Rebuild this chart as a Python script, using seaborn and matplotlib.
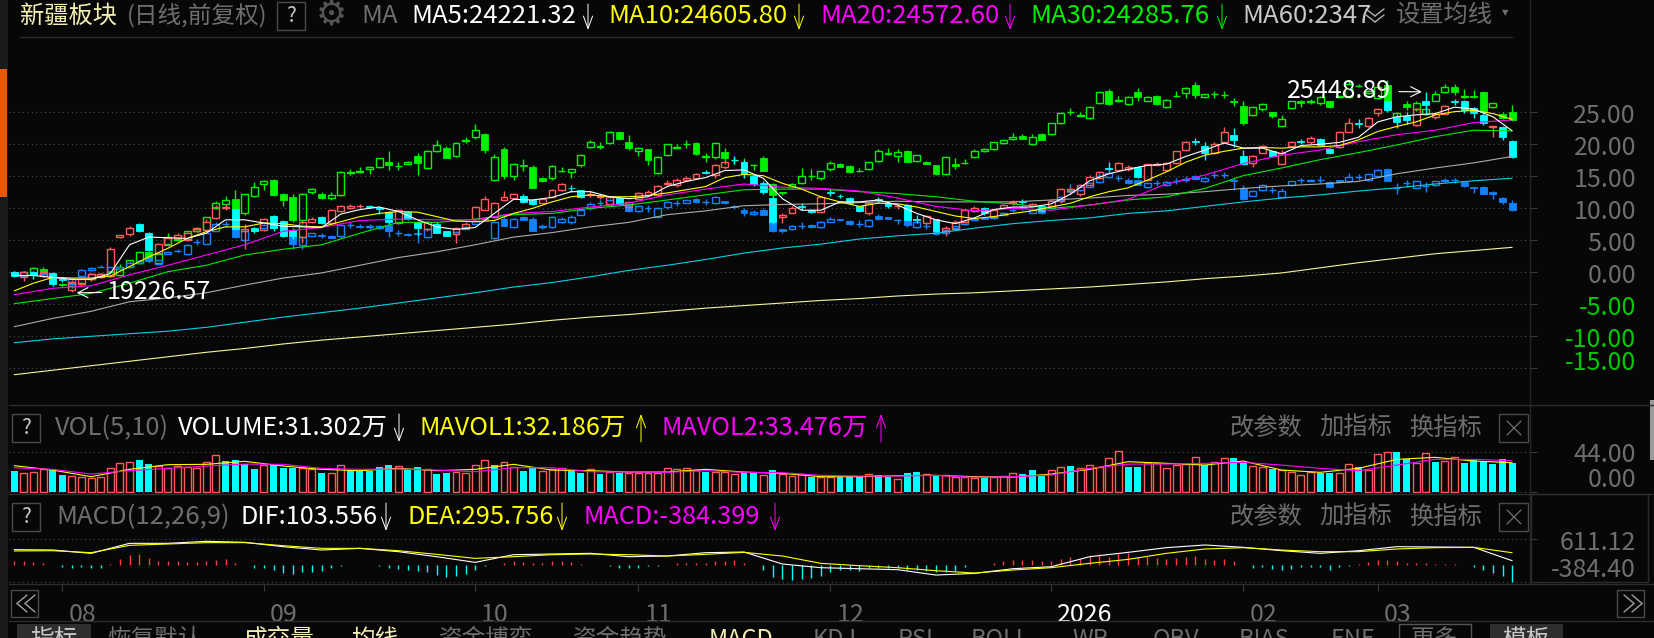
import numpy as np
import pandas as pd
import matplotlib
matplotlib.use("Agg")
import matplotlib.pyplot as plt
import seaborn as sns
from matplotlib.lines import Line2D
from matplotlib.patches import Rectangle
from matplotlib.transforms import ScaledTranslation

# -----------------------------
# DATA (percent scale of the main panel)
# -----------------------------
main_open = [0.1,-0.8,0.1,-0.6,-0.1,-1.1,-2.7,-1.9,-1.1,-0.7,
 -0.6,5.5,6.0,7.6,6.1,3.0,4.3,5.4,5.1,6.4,
 6.6,8.5,10.1,9.9,6.5,6.9,6.6,8.8,8.0,6.6,
 5.5,7.8,8.6,7.7,9.6,10.1,10.3,10.4,10.0,9.5,
 7.7,9.5,7.8,6.7,7.6,6.4,6.0,6.9,8.3,9.8,
 8.7,11.3,11.6,12.0,11.3,10.9,11.8,12.8,13.2,12.8,
 12.1,11.7,10.7,11.6,10.2,11.4,12.1,12.1,13.8,13.6,
 14.4,14.8,15.6,15.2,16.4,17.6,17.3,15.1,14.0,11.6,
 8.7,9.3,10.3,9.8,9.4,12.5,12.0,11.6,10.3,9.3,
 11.4,10.9,10.3,10.5,8.4,7.7,8.3,6.4,6.7,7.9,
 9.6,10.1,8.7,10.0,10.8,11.1,10.4,10.3,10.4,11.1,
 12.7,12.2,13.6,14.7,16.3,16.0,16.1,16.4,14.4,16.8,
 16.0,17.1,19.1,20.5,19.8,18.6,20.4,21.4,18.1,17.1,
 18.7,18.9,17.0,19.7,20.5,20.4,20.9,19.2,19.6,22.0,
 23.4,22.8,24.9,26.7,24.1,24.4,23.0,26.8,24.2,24.8,
 26.7,26.7,25.6,24.6,22.7,22.7,20.5]
main_close = [-0.6,0.1,-0.4,0.1,-1.8,-1.2,-1.5,-1.1,-0.3,-0.3,
 3.6,5.8,7.0,6.5,3.5,4.5,5.3,5.9,6.1,6.9,
 7.9,10.2,10.2,6.8,6.7,6.5,8.3,7.0,5.7,5.6,
 7.8,8.4,7.7,9.8,10.4,10.3,10.4,10.2,9.9,7.9,
 9.7,8.4,7.0,7.8,6.2,5.7,6.9,7.6,10.2,11.4,
 10.8,11.8,12.2,11.0,10.6,11.5,12.9,13.8,13.1,11.7,
 12.3,11.9,11.8,10.7,11.0,12.4,12.6,13.5,14.0,14.4,
 14.8,15.3,15.5,16.7,17.2,17.5,15.4,13.8,12.6,7.9,
 9.0,10.0,10.2,9.4,11.8,12.4,11.9,10.8,9.6,10.9,
 11.3,10.3,10.4,8.2,8.2,8.8,6.4,7.0,7.9,9.8,
 10.1,9.2,9.8,10.5,11.0,11.0,10.6,9.6,11.1,13.0,
 13.0,13.6,14.9,15.7,16.2,17.1,16.5,14.9,16.9,17.0,
 17.1,18.9,20.4,20.4,18.7,20.1,22.0,20.6,16.9,18.2,
 19.7,18.2,18.6,20.3,20.4,21.0,19.9,18.6,22.0,23.3,
 23.2,24.1,25.5,25.3,23.5,23.8,25.5,26.1,24.8,26.0,
 26.6,25.4,24.9,23.3,22.8,21.2,18.0]
main_up = [.1,.1,.1,.3,.2,.3,.3,.1,.2,.2, .3,.1,.2,.1,.2,.1,.2,.3,.2,.2,
 .4,.3,.5,.1,.8,.2,.2,.2,.1,.3, .1,.2,.2,.1,.1,.3,.2,.1,.3,.1,
 .2,.1,.2,.2,.2,.1,.2,.2,.1,.6, .2,.9,.2,.2,.1,.1,.1,.2,.4,.1,
 .4,.3,.1,.1,.1,.1,.2,.2,.4,.4, .2,.2,.4,.2,.2,.5,.2,.1,.3,.2,
 .2,.3,.5,.1,.1,.5,.3,.1,.1,.1, .4,.2,.3,.1,.6,.2,.1,.3,.3,.1,
 .2,.1,.1,.2,.3,.4,.3,.2,.3,.1, .3,.2,.3,.2,1.0,.1,.2,.2,.1,.2,
 .2,.1,.1,.5,.5,.3,.7,1.1,1.0,.2, .2,.1,.5,.2,.4,.3,.1,.2,.1,.8,
 .6,.1,.2,.2,.7,.7,.2,1.3,.2,.2, .4,.3,.2,.3,.1,.1,.1]
main_dn = [.1,.5,.6,.1,.3,.3,.4,.1,.2,.2, .1,.1,.3,.2,.2,.1,.2,.1,.2,.1,
 .1,.1,.4,.2,2.9,.4,.2,.5,.2,.4, .9,.1,.2,.1,.1,.2,.2,.1,.8,.3,
 .1,.2,1.4,.2,.1,.1,1.4,.1,.3,.1, .2,.2,.2,.2,.1,.1,.1,.1,.5,.1,
 .4,.3,.1,.1,.1,.1,.1,.1,.2,.2, .1,.1,.2,.5,.2,.5,.7,.3,.3,.3,
 1.0,.1,.5,.1,.1,.5,.3,.1,.1,.4, .5,.2,.4,.1,.5,.1,.1,.8,.1,.1,
 .1,.2,.1,.1,.3,.4,.1,.2,.1,.2, .3,.2,.1,.1,.4,.1,.2,.2,.2,.1,
 .1,.1,.1,.5,1.2,.1,.2,1.0,.2,.6, .1,.1,.1,.1,.4,.3,.1,.1,.1,.1,
 .6,.1,.5,.3,.9,.7,.2,1.5,.2,.1, .4,.5,.8,.3,1.5,.5,.1]

green_open = [0.1,-0.6,-0.2,0.5,-0.2,-1.9,-2.2,-1.9,-1.1,-0.6,
 -0.5,-0.4,0.9,1.4,3.1,1.4,4.4,5.0,5.2,6.4,
 6.6,10.0,10.6,11.4,9.2,12.0,13.8,14.4,12.3,11.7,
 8.2,12.6,12.3,11.6,12.1,15.5,15.6,16.1,16.5,17.3,
 16.6,17.0,18.2,16.3,18.9,19.4,18.1,20.5,21.2,21.6,
 14.5,19.2,15.1,16.7,16.4,14.8,14.8,15.8,15.7,16.7,
 19.6,19.6,20.2,21.9,20.4,19.0,19.2,15.5,18.3,19.5,
 20.0,20.2,18.0,18.0,18.8,17.5,17.2,16.8,17.8,13.8,
 12.5,13.3,13.9,15.0,14.8,16.1,17.0,16.6,15.8,16.1,
 17.4,18.5,18.1,19.0,17.4,17.3,16.7,15.3,16.9,17.1,
 18.0,18.9,19.2,20.2,20.8,21.3,20.0,21.6,21.6,23.3,
 25.1,24.5,24.1,26.4,28.3,26.7,26.3,28.1,26.8,27.6,
 25.8,27.5,28.0,29.3,27.4,27.8,27.7,26.7,26.0,24.6,
 25.5,25.0,22.9,25.6,26.8,26.6,26.4,26.7,27.4,27.4,
 29.1,28.0,27.2,29.3,24.2,26.3,25.5,24.8,26.8,28.1,
 28.9,27.4,27.5,28.2,25.8,24.8,25.0]
green_close = [-0.2,0.1,0.7,-0.1,-0.7,-2.0,-1.7,-1.6,-0.3,-0.2,
 0.1,0.9,1.9,3.1,1.9,2.8,5.5,5.2,6.4,6.7,
 8.6,10.9,11.3,9.9,12.2,13.3,14.3,12.1,11.3,8.2,
 12.3,13.0,11.6,12.1,15.7,15.6,15.9,16.5,17.8,16.7,
 16.6,17.3,17.1,19.0,19.9,17.9,20.2,20.6,22.3,19.1,
 18.0,15.1,17.0,16.6,13.2,14.3,16.6,15.9,16.1,18.4,
 20.3,19.7,22.0,20.8,19.4,19.5,17.6,18.0,20.0,19.6,
 20.1,18.5,18.1,20.2,17.9,17.5,16.5,16.8,15.9,12.1,
 12.4,13.8,15.1,15.1,15.8,17.1,16.5,15.6,15.8,17.2,
 19.0,18.6,18.8,17.3,18.3,17.0,15.3,18.0,16.6,17.1,
 19.0,19.2,20.3,20.6,21.2,20.9,21.2,20.7,23.3,24.9,
 25.1,24.6,25.9,28.1,26.3,27.0,27.4,27.4,27.4,26.3,
 27.0,27.6,28.8,27.7,27.8,27.8,27.7,26.6,23.4,25.9,
 26.3,24.4,24.0,26.7,26.5,26.7,27.4,25.8,27.5,29.4,
 29.1,28.4,29.0,26.7,24.9,25.8,26.4,25.5,27.9,28.9,
 28.2,27.5,27.4,25.1,26.4,24.1,23.8]
green_up = [.1,.1,.1,.4,.1,.3,.2,.1,.2,.1, .1,.4,.1,.1,.2,.1,.7,.3,.1,.3,
 .1,.3,.7,1.5,.1,.8,.2,.2,.1,.5, .1,.2,.2,.4,.1,.5,.6,.1,.1,1.6,
 .6,.1,.4,.1,.7,.3,.1,.6,.8,.1, .5,.4,.1,1.0,.3,.1,.2,.6,.1,.1,
 .4,.6,.1,.2,1.0,.1,.1,.2,.1,.5, .6,.2,.5,.1,.6,.5,.7,.1,.3,.1,
 .1,.1,1.2,1.0,.1,.3,.1,.2,.5,.1, .3,.8,.5,.1,.1,.1,.1,.1,.9,.6,
 .2,.2,.1,.2,.5,.3,.4,.1,.1,.1, .6,.5,.1,.1,.3,.5,.1,.7,.2,.1,
 .1,.7,.1,.4,.1,.6,.7,.6,.8,.1, .2,.1,.6,.1,.1,.4,.2,.1,.1,.5,
 .3,.1,.1,.8,.1,.5,.3,.6,.4,.6, .5,1.2,1.0,.1,.1,.3,1.1]
green_dn = [.1,.1,.3,.5,.1,.3,.3,.1,.1,.1, .1,.2,.1,.1,.3,.1,.1,.1,.1,.1,
 .1,.1,.7,2.5,.2,.3,.9,.1,.9,.3, .6,.4,.1,.3,.1,.3,.1,.8,.2,.7,
 .6,.1,1.9,.1,.1,.1,.1,.3,.3,.4, .2,.5,.6,.7,.1,.2,.4,.1,1.0,.2,
 .2,.4,.1,.1,.3,.9,.9,.1,.2,.1, .5,.1,.7,.3,1.0,.5,.2,.8,.1,.5,
 .3,.1,.1,.5,.3,.2,.1,.1,.2,.1, .2,.1,.9,.1,.1,.1,.1,.1,.4,.1,
 .2,.1,.1,.1,.1,.1,.1,.1,.1,.2, .5,.1,.2,.1,.1,.1,.1,.6,.1,.1,
 .1,.1,.8,.4,.1,.5,.4,.6,.4,.1, .3,.3,.1,.1,.6,.3,.3,.1,.1,.2,
 .2,.1,.1,.1,.1,.4,.3,.1,.1,.1, .5,.1,.2,.2,.1,.2,.1]

blue_open = [0.1,-0.6,0.1,-0.3,-0.4,-1.0,-1.9,-0.6,0.3,0.9,
 0.2,0.5,0.9,1.5,2.2,1.3,2.9,3.3,2.8,4.7,
 4.5,6.5,7.5,6.9,5.1,6.7,6.9,7.3,6.5,5.6,
 4.3,5.7,5.9,5.7,5.6,7.4,7.3,7.1,6.9,7.4,
 6.1,6.0,6.1,5.5,6.5,6.2,6.0,6.8,7.6,8.3,
 5.3,8.3,7.1,8.7,8.4,7.1,7.1,7.9,7.9,9.0,
 10.0,10.8,10.5,10.9,10.7,9.6,10.0,8.7,10.2,10.8,
 10.9,11.5,11.0,10.8,11.1,10.4,9.8,9.1,9.8,7.9,
 6.7,6.7,7.3,7.4,7.1,7.9,8.3,8.0,7.6,7.3,
 8.8,8.6,8.1,8.2,7.1,7.3,6.4,6.1,7.0,7.5,
 8.2,8.5,8.5,9.0,9.8,10.1,9.3,9.5,10.0,11.3,
 13.0,12.8,13.4,14.1,14.9,14.7,14.4,14.4,13.3,14.0,
 13.6,14.3,14.5,15.0,14.2,15.2,15.2,14.4,13.1,12.0,
 12.8,12.9,11.8,13.6,14.4,14.3,14.5,14.1,14.4,14.3,
 14.9,14.4,15.1,16.1,13.1,13.9,13.2,13.5,13.6,14.2,
 14.4,14.1,13.3,13.3,12.5,11.6,10.9]
blue_close = [-0.3,0.0,-0.3,0.1,-0.9,-1.1,-1.0,0.3,0.7,0.9,
 0.8,0.8,1.5,1.8,1.7,1.9,3.2,3.4,4.3,4.8,
 6.1,7.6,7.6,5.5,6.5,6.7,7.4,7.0,6.0,4.4,
 5.5,6.1,5.6,5.4,7.4,7.4,7.1,7.2,7.2,6.4,
 6.1,5.8,6.0,6.7,6.3,6.0,6.3,7.1,8.0,8.5,
 7.9,7.3,8.3,8.2,6.5,7.2,8.6,8.4,8.7,9.7,
 10.7,10.8,11.3,10.6,9.6,10.3,10.0,10.0,11.0,10.8,
 11.3,11.0,11.0,11.7,10.8,10.2,9.3,9.5,9.0,6.4,
 6.5,7.2,7.3,7.1,7.8,8.4,8.1,7.6,7.6,8.2,
 8.3,8.4,8.1,7.4,7.9,7.3,6.0,6.6,7.2,7.9,
 8.4,8.4,8.7,9.3,9.8,10.2,9.7,9.2,10.3,11.8,
 12.6,13.4,13.9,15.0,15.5,14.7,13.9,13.7,13.9,14.0,
 14.1,14.3,14.6,14.6,14.7,15.2,15.2,14.2,11.4,12.7,
 13.6,12.9,12.7,14.2,14.4,14.5,14.5,13.3,14.1,14.9,
 14.9,15.3,16.0,14.3,13.1,13.9,14.2,13.5,14.2,14.5,
 14.4,13.5,13.1,12.3,12.3,11.0,9.8]
blue_up = [.1,.1,.1,.1,.1,.1,.1,.2,.2,.2, .1,.1,.2,.1,.2,.1,.2,.3,.2,.4,
 .1,.2,.4,.2,.2,.4,.1,.1,.1,.2, .2,.1,.2,.1,.2,.5,.2,.4,.2,.2,
 .5,.2,.4,.2,.1,.1,.1,.1,.1,.1, .1,.3,.2,.1,.2,.4,.2,.2,.2,.2,
 .3,.5,.2,.1,.2,.1,.5,.2,.2,.5, .2,.1,.5,.2,.1,.1,.2,.2,.2,.1,
 .1,.2,.5,.2,.2,.2,.1,.2,.5,.2, .3,.1,.3,.1,.1,.5,.1,.1,.1,.1,
 .1,.1,.1,.1,.4,.4,.1,.1,.1,.1, .8,.1,.2,.5,.5,.5,.4,.2,.1,.5,
 .1,.5,.4,.2,.2,.5,.5,.5,.6,.1, .2,.5,.4,.1,.4,.1,.5,.2,.1,.6,
 .5,.1,.1,.2,.8,.5,.1,.6,.1,.2, .4,.1,.1,.2,.2,.1,.4]
blue_dn = [.1,.1,.1,.1,.1,.1,.1,.1,.1,.1, .1,.1,.1,.1,.1,.1,.1,.2,.1,.4,
 .1,.1,.4,.1,.1,.4,.1,.1,.1,.8, .6,.1,.2,.1,.3,.5,.2,.4,.1,.9,
 .5,.2,1.4,.1,.1,.1,.1,.1,.1,.1, .1,.1,.2,.1,.1,.4,.1,.2,.3,.1,
 .2,.5,.1,.1,.2,.1,.5,.1,.3,.5, .1,.1,.5,.1,.1,.3,.5,.1,.1,.1,
 .4,.1,.5,.1,.1,.1,.1,.2,.5,.2, .1,.1,.5,.3,.1,.5,.1,.1,.1,.1,
 .1,.1,.1,.1,.4,.4,.1,.1,.1,.1, .3,.1,.1,.1,.1,.5,.1,.1,.1,.5,
 .1,.5,.4,.2,.1,.5,.5,1.3,.1,.1, .1,.5,.1,.1,.4,.1,.5,.2,.1,.2,
 .5,.1,.1,.1,.8,.5,.1,1.0,.1,.1, .4,.1,.7,.1,.8,.3,.2]

# moving averages, read every 2 or 4 bars
ma5 = [-.5,-.5,-.8,-1.1,-1.1,-.2,4.3,5.5,5.4,5.3,6.1,8.2,8.2,7.7,7.2,7.1,7.0,9.1,9.8,10.2,
 9.5,8.2,7.1,6.7,7.0,9.2,11.4,11.3,11.7,12.6,12.6,11.8,11.5,11.8,13.4,14.2,14.8,15.9,16.0,14.7,
 11.5,9.7,9.7,11.0,11.0,11.3,10.5,9.2,8.2,7.6,8.5,9.8,10.2,10.2,10.7,12.2,14.3,15.4,16.1,16.7,
 16.9,18.1,19.1,20.2,19.4,19.4,18.5,19.8,20.0,20.3,21.1,23.5,24.3,24.6,24.8,25.8,25.5,24.3,22.1]
ma10 = [-2.9,-1.7,-.8,-.9,-.9,-.6,.9,2.4,3.75,5.3,6.35,7.1,7.1,7.7,7.6,7.2,7.1,7.9,8.7,9.2,
 9.5,9.4,8.7,8.0,7.9,8.1,9.2,10.0,11.0,11.8,12.1,11.8,11.8,12.0,12.4,12.9,13.4,14.8,15.3,15.1,
 13.9,13.0,11.8,11.0,10.3,10.8,10.7,10.2,9.5,8.8,8.4,8.7,9.2,9.6,10.2,10.8,11.8,12.6,13.2,14.4,
 15.7,17.2,18.3,18.9,19.4,19.5,19.4,19.6,19.6,19.8,20.7,22.0,22.8,23.5,24.6,25.1,25.3,24.8,23.9]
ma20 = [-3.5,-2.5,-2.1,-.4,1.1,2.7,4.3,6.4,7.0,8.1,8.3,8.2,8.2,9.2,9.5,10.2,10.8,12.1,13.0,13.8,
 13.3,13.1,12.7,11.6,10.3,9.6,10.0,9.7,10.5,11.4,13.8,15.2,17.0,18.3,19.1,20.4,21.5,22.2,23.4,23.8]
ma30 = [-4.9,-4.1,-3.3,-1.7,.1,1.1,2.7,3.6,4.3,6.1,7.8,7.8,8.3,9.0,9.2,10.0,10.5,11.3,12.1,12.9,
 13.0,13.0,12.6,12.3,11.8,11.1,10.7,10.0,10.5,11.3,11.8,13.1,15.1,16.3,17.6,18.7,19.9,21.2,22.2,22.1]
ma60 = [-8.5,-7.2,-6.1,-4.6,-4.0,-3.2,-2.0,-.9,-.1,1.1,2.3,3.2,4.3,5.5,6.2,7.1,7.8,9.0,9.6,10.4,
 10.6,10.7,10.9,11.1,11.0,11.0,11.0,11.3,11.6,12.0,12.2,12.6,13.1,13.5,13.8,14.2,15.4,16.3,17.1,18.1]
ma120 = [-11.0,-10.4,-10.0,-9.6,-9.2,-8.6,-7.8,-7.0,-6.3,-5.6,-4.8,-4.0,-3.2,-2.3,-1.6,-.7,.3,1.1,2.0,3.0,
 3.8,4.4,5.2,5.7,6.1,6.9,7.6,8.1,8.5,9.2,9.6,10.3,11.0,11.6,12.1,12.7,13.2,13.8,14.3,14.7]
ma250 = [-16.0,-15.3,-14.6,-13.9,-13.2,-12.5,-11.9,-11.2,-10.6,-10.1,-9.6,-9.1,-8.6,-8.1,-7.5,-7.0,-6.6,-6.1,-5.6,-5.2,
 -4.8,-4.4,-4.1,-3.7,-3.4,-3.2,-2.9,-2.6,-2.3,-1.9,-1.5,-1.0,-.6,-.1,.7,1.5,2.2,2.9,3.4,3.9]

# volume, in 万
volume = [22.7,20.2,21.3,24.6,23.8,18.3,17.2,15.8,14.7,15.8,26.4,31.2,32.6,34.8,30.1,28.2,25.7,28.2,27.5,25.7,
 32.3,40.0,33.7,34.8,30.1,24.9,29.3,29.3,26.4,26.4,25.7,24.9,20.9,20.2,29.0,23.8,23.1,22.7,27.1,29.3,
 28.6,24.6,26.8,24.6,19.4,20.9,22.0,20.2,29.0,34.5,29.3,32.6,27.5,22.7,25.7,22.7,24.9,
 25.7,23.1,20.9,24.9,19.4,22.0,20.9,20.9,20.9,20.2,20.2,25.7,24.6,25.7,23.8,22.0,22.0,22.0,19.4,21.3,
 20.2,18.3,23.8,19.4,17.2,19.4,16.5,15.8,16.5,15.8,15.8,15.8,19.1,18.0,16.5,13.9,20.5,21.6,19.1,17.6,
 18.3,15.8,16.5,14.7,15.8,15.8,17.2,20.2,19.4,23.8,17.2,23.5,26.8,28.2,25.7,29.0,27.5,
 36.7,44.7,27.1,27.5,31.2,31.2,25.7,29.3,30.4,37.8,29.3,33.0,36.7,36.7,31.9,27.9,26.8,24.9,23.8,21.6,
 18.0,22.0,20.9,20.9,20.9,30.1,26.8,23.8,41.1,43.3,43.6,35.6,31.2,42.2,32.6,34.1,37.8,31.5,34.8,32.6,
 30.4,35.6,31.3]
vol_dir = ("crrrccrrrrrrrccrrrrrrrccccrcccrrcrrcccccrccrccrrrrcrrccrr"
           "rccrcrcrrrrrrrrcrrrccrcrrrcrrcccrccrccrcrrrrcrrrcccrrcrrr"
           "rrccrrrrrrcrrccrrcrrrrccrrcrrrccrrcrrcccccc")
mavol1 = [28.6,23.8,16.5,24.6,29.7,30.1,33.4,28.2,24.6,23.1,25.7,23.1,24.6,30.1,23.8,
 23.1,21.6,21.6,24.6,21.6,20.2,16.5,16.5,17.6,18.0,16.5,16.1,19.4,24.6,
 33.0,31.2,29.3,33.7,23.8,21.3,25.7,35.6,37.8,33.7,31.9]
mavol2 = [26.4,24.6,19.4,23.1,25.7,28.2,30.4,30.1,25.7,24.6,24.9,23.8,22.0,26.4,26.4,
 22.0,21.6,21.3,23.1,21.3,20.9,18.0,17.2,17.2,18.0,15.8,16.5,18.3,25.7,
 30.4,30.4,31.2,32.3,29.3,25.7,23.1,29.3,35.6,35.6,34.1]

# macd
dif = [368,360,282,517,517,564,541,438,360,399,321,203,70,250,266,282,203,219,297,313,
 31,-55,-79,-102,-228,-189,-79,-32,203,305,415,478,423,344,282,344,438,431,423,109]
dea = [337,344,297,470,501,533,533,462,399,399,344,258,164,203,250,266,250,219,258,305,
 219,47,-8,-55,-126,-181,-110,-55,47,140,282,384,415,360,321,321,384,415,423,296]
macd_hist = [102,94,78,55,8,-39,-55,-47,-55,-55,39,149,243,267,172,110,110,94,86,86,94,125,149,55,0,-55,-63,-110,-188,-204,
 -157,-149,-133,-63,-16,0,8,0,-8,-71,-94,-110,-133,-165,-220,-267,-251,-204,-110,-8,8,63,94,71,55,55,94,
 102,71,31,8,0,-8,-71,-71,-55,-24,-8,8,47,55,47,63,94,102,125,55,0,-110,-267,-321,-345,-329,-306,-243,-149,-110,
 -110,-125,-71,-55,-55,-55,-110,-110,-125,-165,-149,-125,-31,8,16,47,110,125,118,125,94,110,149,188,141,243,267,204,
 298,282,204,188,172,141,172,196,220,141,125,149,102,0,-55,-39,-86,-110,-78,-47,-31,-31,-110,-31,-8,31,86,125,125,94,
 55,47,47,39,31,39,0,-39,-110,-180,-243,-384]

main_ticks = [25, 20, 15, 10, 5, 0, -5, -10, -15]
month_ticks = [5, 26, 48, 65, 85, 108, 128, 142]
month_labels = ["08", "09", "10", "11", "12", "2026", "02", "03"]

# -----------------------------
# STYLE
# -----------------------------
W, H = 1654, 638
BG = "#070707"
GRAY = "#6e6e6e"
sns.set_theme(style="dark", rc={"figure.facecolor": BG, "axes.facecolor": BG, "savefig.facecolor": BG})
plt.rcParams["font.family"] = ["Noto Sans CJK SC", "DejaVu Sans"]

fig = plt.figure(figsize=(W / 100, H / 100), dpi=100)


def add_panel(top, bottom):
    ax = fig.add_axes([9 / W, 1 - bottom / H, (1530 - 9) / W, (bottom - top) / H])
    ax.set_xlim(-0.55, 157.86)
    for s in ax.spines.values():
        s.set_visible(False)
    ax.tick_params(left=False, bottom=False, labelleft=False, labelbottom=False,
                   right=True, length=5, width=0.8, color="#3a3a3a")
    ax.grid(True, axis="y", color="#4a4a4a", linestyle=(0, (1, 3)), linewidth=0.8)
    ax.grid(False, axis="x")
    return ax


def txt(x, y, s, color=GRAY, size=17, ha="left", **kw):
    fig.text(x / W, 1 - y / H, s, color=color, fontsize=size, ha=ha, va="center", **kw)


def box(x0, y0, x1, y1, edge="#4a4a4a", face="none", lw=1.0):
    fig.add_artist(Rectangle((x0 / W, 1 - y1 / H), (x1 - x0) / W, (y1 - y0) / H, transform=fig.transFigure,
                             edgecolor=edge, facecolor=face, linewidth=lw))


def stroke(x0, y0, x1, y1, color="#2c2c2c", lw=1.0):
    fig.add_artist(Line2D([x0 / W, x1 / W], [1 - y0 / H, 1 - y1 / H], color=color, lw=lw))


def arrow(x, y0, y1, color):
    plt.annotate("", xy=(x, H - y1), xytext=(x, H - y0), xycoords="figure pixels", textcoords="figure pixels",
                 arrowprops=dict(arrowstyle="->,head_length=0.6,head_width=0.22", color=color, lw=0.7,
                                 shrinkA=0, shrinkB=0, mutation_scale=15))


def candles(ax, o, c, up, dn, up_color, down_color):
    o, c, up, dn = map(np.array, (o, c, up, dn))
    x = np.arange(len(o))
    top, bot = np.maximum(o, c), np.minimum(o, c)
    rising = c >= o
    ax.vlines(x[rising], top[rising], top[rising] + up[rising], color=up_color, lw=1.0, zorder=2)
    ax.vlines(x[rising], bot[rising] - dn[rising], bot[rising], color=up_color, lw=1.0, zorder=2)
    ax.vlines(x[~rising], top[~rising], top[~rising] + up[~rising], color=down_color, lw=1.0, zorder=2)
    ax.vlines(x[~rising], bot[~rising] - dn[~rising], bot[~rising], color=down_color, lw=1.0, zorder=2)
    ax.bar(x[rising], (top - bot)[rising], bottom=bot[rising], width=0.72, facecolor="none",
           edgecolor=up_color, linewidth=1.0, zorder=2)
    ax.bar(x[~rising], (top - bot)[~rising], bottom=bot[~rising], width=0.72, facecolor=down_color,
           edgecolor=down_color, linewidth=0.6, zorder=2)


# -----------------------------
# MAIN PANEL
# -----------------------------
ax_main = add_panel(38, 405)
ax_main.set_ylim((272.3 - 405) / 6.4, (272.3 - 38) / 6.4)
ax_main.set_yticks(main_ticks)

candles(ax_main, green_open, green_close, green_up, green_dn, "#00F000", "#00F000")
candles(ax_main, blue_open, blue_close, blue_up, blue_dn, "#1482FF", "#1482FF")
candles(ax_main, main_open, main_close, main_up, main_dn, "#FF5A5A", "#00FFFF")

for values, step, color in [(ma250, 4, "#F5F59A"), (ma120, 4, "#00D0E8"), (ma60, 4, "#ABABAB"),
                            (ma30, 4, "#00E800"), (ma20, 4, "#FF00FF"), (ma10, 2, "#FFFF00"),
                            (ma5, 2, "#FFFFFF")]:
    sns.lineplot(x=np.arange(len(values)) * step, y=values, color=color, linewidth=0.8, ax=ax_main,
                 legend=False, errorbar=None, zorder=3)
ax_main.set_xlabel("")
ax_main.set_ylabel("")
ax_main.set_xlim(-0.55, 157.86)

ax_main.annotate("19226.57", xy=(6.5, -3.2), xytext=(9.6, -3.05), color="white", fontsize=18, va="center",
                 zorder=6, arrowprops=dict(arrowstyle="->", color="white", lw=0.8, mutation_scale=18, shrinkA=1, shrinkB=0))
ax_main.annotate("25448.89", xy=(146.6, 28.2), xytext=(132.6, 28.3), color="white", fontsize=18, va="center",
                 zorder=6, arrowprops=dict(arrowstyle="->", color="white", lw=0.8, mutation_scale=18, shrinkA=3, shrinkB=0))

# -----------------------------
# VOLUME PANEL
# -----------------------------
ax_vol = add_panel(405, 493.5)
vol_df = pd.DataFrame({"day": np.arange(len(volume)), "vol": volume, "dir": list(vol_dir)})
sns.barplot(data=vol_df[vol_df["dir"] == "r"], x="day", y="vol", native_scale=True, width=0.72, fill=False,
            color="#FF5A5A", linewidth=1.0, errorbar=None, ax=ax_vol, zorder=2)
sns.barplot(data=vol_df[vol_df["dir"] == "c"], x="day", y="vol", native_scale=True, width=0.72,
            color="#00FFFF", saturation=1, linewidth=0, errorbar=None, ax=ax_vol, zorder=2)
sns.lineplot(x=np.arange(len(mavol1)) * 4, y=mavol1, color="#FFFF00", linewidth=0.8, ax=ax_vol, zorder=3)
sns.lineplot(x=np.arange(len(mavol2)) * 4, y=mavol2, color="#FF00FF", linewidth=0.8, ax=ax_vol, zorder=3)
ax_vol.set_xlim(-0.55, 157.86)
ax_vol.set_ylim((491.7 - 493.5) * 1.1, (491.7 - 405) * 1.1)
ax_vol.set_yticks([0, 44])
ax_vol.set_xlabel("")
ax_vol.set_ylabel("")
ax_vol.tick_params(left=False, bottom=False, labelleft=False, labelbottom=False)

# -----------------------------
# MACD PANEL
# -----------------------------
ax_macd = add_panel(494, 584)
hist = np.array(macd_hist)
days = np.arange(len(hist))
ax_macd.vlines(days[hist >= 0], 0, hist[hist >= 0], color="#FF3C3C", lw=1.0, zorder=2)
ax_macd.vlines(days[hist < 0], hist[hist < 0], 0, color="#00FFFF", lw=1.0, zorder=2)
sns.lineplot(x=np.arange(len(dif)) * 4, y=dif, color="white", linewidth=0.8, ax=ax_macd, zorder=3)
sns.lineplot(x=np.arange(len(dea)) * 4, y=dea, color="#FFFF00", linewidth=0.8, ax=ax_macd, zorder=3)
ax_macd.set_xlim(-0.55, 157.86)
ax_macd.set_ylim(-438, 1675)
ax_macd.set_yticks([611.12, -384.4])
ax_macd.set_ylabel("")
ax_macd.set_xticks(month_ticks)
ax_macd.set_xticklabels(month_labels)
ax_macd.tick_params(axis="x", bottom=True, labelbottom=True, length=5, width=0.8, color="#3a3a3a",
                    labelsize=18, labelcolor=GRAY, pad=8)
for lbl, name in zip(ax_macd.get_xticklabels(), month_labels):
    lbl.set_ha("left")
    lbl.set_transform(lbl.get_transform() + ScaledTranslation(6 / 100, 0, fig.dpi_scale_trans))
    if name == "2026":
        lbl.set_color("white")

# -----------------------------
# FRAME AND SIDE STRIPS
# -----------------------------
box(0, 0, 8, H, edge="none", face="#1b1b1b")
box(0, 69, 7, 197, edge="none", face="#E85A00")
stroke(20, 37, 1512, 37)
stroke(9, 405, W, 405)
stroke(9, 493.5, W, 493.5)
stroke(9, 584, W, 584)
stroke(9, 620.5, W, 620.5)
stroke(1530, 0, 1530, 584, color="#262626")
box(1531, 494, 1648, 582, edge="#2c2c2c")
box(1650, 400, W, 460, edge="none", face="#9a9a9a")

# -----------------------------
# HEADER TEXT
# -----------------------------
txt(20, 16, "新疆板块", color="#F4EFB4", size=17.5)
txt(127, 16, "(日线,前复权)", size=17)
box(277, 2, 305, 30)
txt(291, 16, "?", color="#C8C8C8", size=15, ha="center")
txt(331, 15, "⚙", color="#555555", size=25, ha="center", family="DejaVu Sans")
txt(361, 16, "MA", size=18.5)
txt(411, 16, "MA5:24221.32", color="white", size=18.5)
arrow(588, 4, 30, "white")
txt(608, 16, "MA10:24605.80", color="#FFFF00", size=18.5)
arrow(799, 4, 30, "#FFFF00")
txt(820, 16, "MA20:24572.60", color="#FF00FF", size=18.5)
arrow(1010, 4, 30, "#FF00FF")
txt(1030, 16, "MA30:24285.76", color="#00F000", size=18.5)
arrow(1222, 4, 30, "#00F000")
txt(1242, 16, "MA60:2347", color="#C8C8C8", size=18.5)
box(1364, 2, 1386, 30, edge="none", face=BG)
for y in (9, 15):
    stroke(1366, y, 1375, y + 7, color="#B0B0B0", lw=1.0)
    stroke(1375, y + 7, 1384, y, color="#B0B0B0", lw=1.0)
txt(1396, 15, "设置均线", size=17.5)
txt(1505, 13, "▼", size=6, ha="center", family="DejaVu Sans")

for y in (428, 517):
    box(12, y - 14, 40, y + 14)
    txt(26, y, "?", color="#C8C8C8", size=15, ha="center")
    txt(1230, y, "改参数", size=17.5)
    txt(1319, y, "加指标", size=17.5)
    txt(1409, y, "换指标", size=17.5)
    box(1499, y - 14, 1528, y + 14)
    stroke(1507, y - 7, 1521, y + 7, color="#7a7a7a", lw=0.8)
    stroke(1507, y + 7, 1521, y - 7, color="#7a7a7a", lw=0.8)

txt(55, 428, "VOL(5,10)", size=18.3)
txt(178, 428, "VOLUME:31.302万", color="white", size=18.2)
arrow(399, 414, 442, "white")
txt(420, 428, "MAVOL1:32.186万", color="#FFFF00", size=18.2)
arrow(641, 442, 414, "#FFFF00")
txt(661, 428, "MAVOL2:33.476万", color="#FF00FF", size=18.2)
arrow(881, 442, 414, "#FF00FF")

txt(56, 517, "MACD(12,26,9)", size=18.5)
txt(240, 517, "DIF:103.556", color="white", size=18.2)
arrow(386, 503, 531, "white")
txt(407, 517, "DEA:295.756", color="#FFFF00", size=18.2)
arrow(562, 503, 531, "#FFFF00")
txt(583, 517, "MACD:-384.399", color="#FF00FF", size=18.2)
arrow(775, 503, 531, "#FF00FF")

# -----------------------------
# Y AXIS LABELS
# -----------------------------
for y, s, c in [(116, "25.00", GRAY), (148, "20.00", GRAY), (180, "15.00", GRAY), (212, "10.00", GRAY),
                (244, "5.00", GRAY), (276, "0.00", GRAY), (308, "-5.00", "#00C800"), (340, "-10.00", "#00C800"),
                (363, "-15.00", "#00C800"), (455, "44.00", GRAY), (480, "0.00", GRAY),
                (543, "611.12", GRAY), (570, "-384.40", GRAY)]:
    txt(1636, y, s, color=c, size=18, ha="right")

# -----------------------------
# BOTTOM TABS
# -----------------------------
box(11, 590, 38, 617)
for dx in (0, 8):
    stroke(27 + dx, 595, 17 + dx, 603.5, color="#A0A0A0", lw=1.0)
    stroke(17 + dx, 603.5, 27 + dx, 612, color="#A0A0A0", lw=1.0)
box(1617, 590, 1644, 617)
for dx in (0, 8):
    stroke(1624 + dx, 595, 1634 + dx, 603.5, color="#A0A0A0", lw=1.0)
    stroke(1634 + dx, 603.5, 1624 + dx, 612, color="#A0A0A0", lw=1.0)

box(17, 624, 91, 645, edge="none", face="#2e2e2e")
box(1399, 624, 1471, 645, edge="#555555")
box(1490, 624, 1563, 645, edge="none", face="#2e2e2e")
for x, s, c in [(54, "指标", "#C8C8C8"), (154, "恢复默认", GRAY), (279, "成交量", "#F4EFB4"), (375, "均线", "#F4EFB4"),
                (486, "资金博弈", GRAY), (620, "资金趋势", GRAY), (741, "MACD", "#F4EFB4"), (835, "KDJ", GRAY),
                (916, "RSI", GRAY), (1000, "BOLL", GRAY), (1090, "WR", GRAY), (1176, "OBV", GRAY),
                (1264, "BIAS", GRAY), (1353, "ENE", GRAY), (1435, "更多", GRAY), (1526, "模板", "#C8C8C8")]:
    txt(x, 639, s, color=c, size=17, ha="center")

fig.savefig("out.png", dpi=100)
